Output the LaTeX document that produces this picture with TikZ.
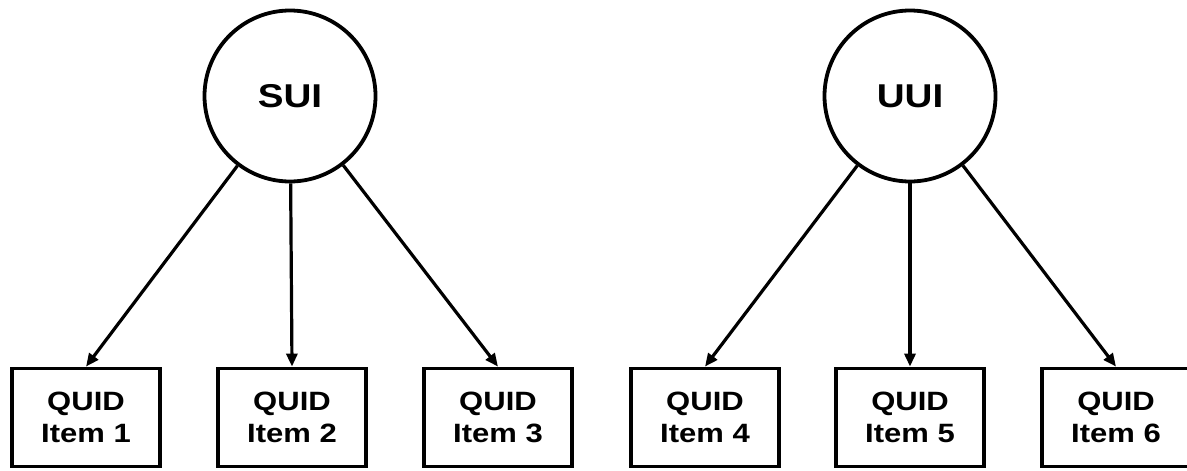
\documentclass[tikz,border=0pt]{standalone}
\usepackage{fontspec}
\setmainfont{Liberation Sans}
\newfontfamily\widefont[FakeStretch=1.17]{Liberation Sans}
\usetikzlibrary{arrows.meta}
\begin{document}
\begin{tikzpicture}[x=1pt,y=-1pt,
  latent/.style={circle,draw,line width=3.8pt,minimum size=171pt,inner sep=0pt,font=\widefont\bfseries\fontsize{33}{36}\selectfont},
  itembox/.style={rectangle,draw,line width=3.8pt,minimum width=148pt,minimum height=98pt,inner sep=0pt,align=center,font=\widefont\bfseries\fontsize{26.5}{32}\selectfont},
  link/.style={line width=3.2pt,-{Triangle[length=13pt,width=11pt]}}]
\useasboundingbox (0,0) rectangle (1187,471);
\clip (0,0) rectangle (1187,471);
\node[latent] (sui) at (290,96) {SUI};
\node[latent] (uui) at (910,96) {UUI};
\node[itembox] (i1) at (86,417.5) {QUID\\Item 1};
\node[itembox] (i2) at (292,417.5) {QUID\\Item 2};
\node[itembox] (i3) at (498,417.5) {QUID\\Item 3};
\node[itembox] (i4) at (705,417.5) {QUID\\Item 4};
\node[itembox] (i5) at (910,417.5) {QUID\\Item 5};
\node[itembox] (i6) at (1116,417.5) {QUID\\Item 6};
\draw[link] (sui) -- (i1.north);
\draw[link] (sui) -- (i2.north);
\draw[link] (sui) -- (i3.north);
\draw[link] (uui) -- (i4.north);
\draw[link] (uui) -- (i5.north);
\draw[link] (uui) -- (i6.north);
\end{tikzpicture}
\end{document}
